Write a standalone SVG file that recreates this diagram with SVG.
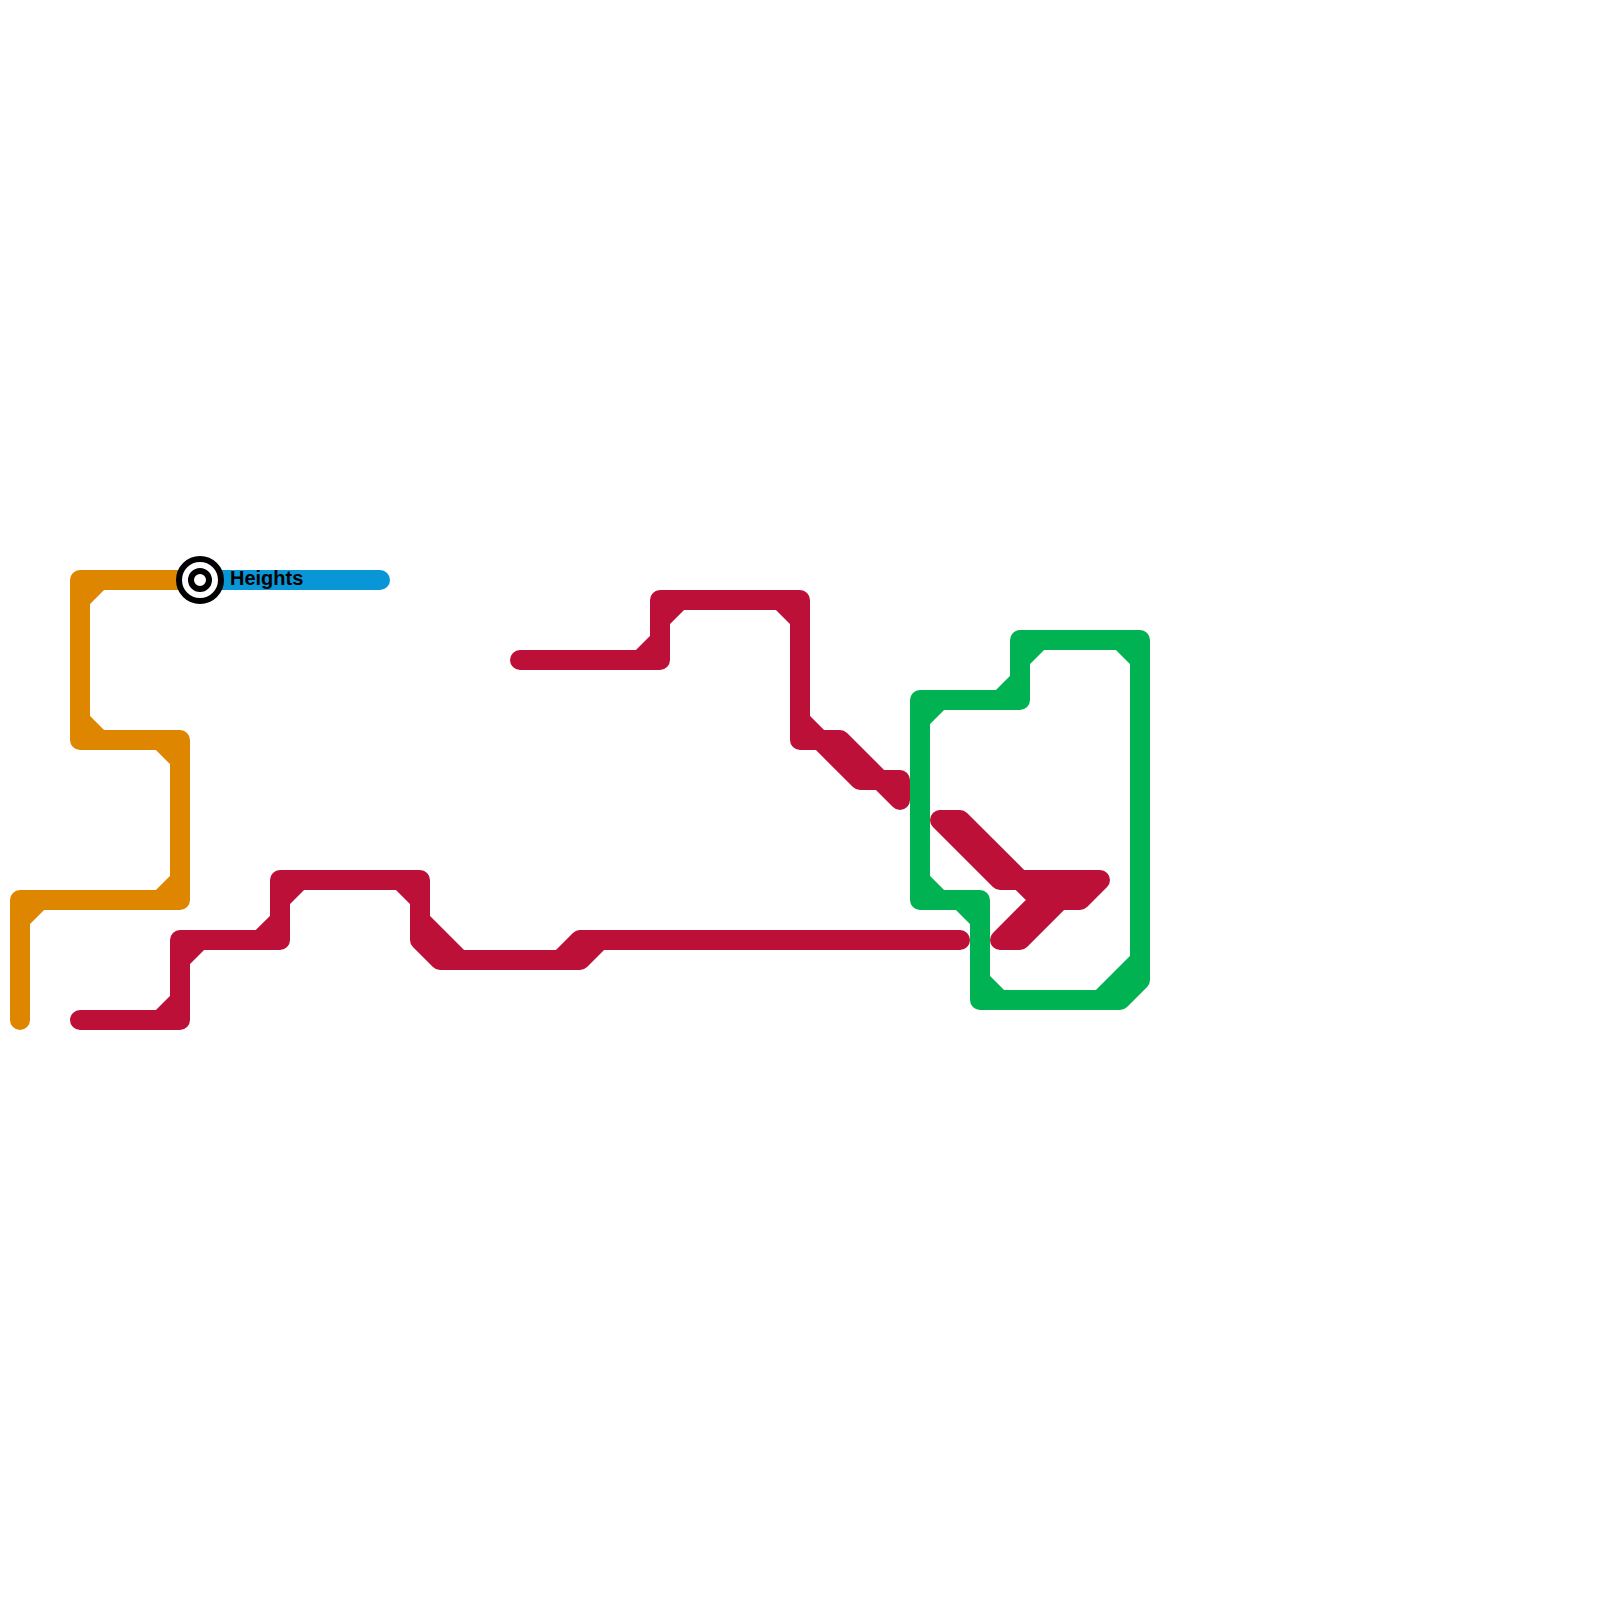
<svg xmlns="http://www.w3.org/2000/svg" width="1600" height="1600" viewBox="0 0 1600 1600">
  <style>
    .line { fill: none; stroke-width: 20; stroke-linecap: round; stroke-linejoin: round; }
    .orange { stroke: #df8600; }
    .blue { stroke: #0896d7; }
    .red { stroke: #bd1038; }
    .green { stroke: #00b251; }
    .label { font-family: "Liberation Sans", Arial, sans-serif; font-size: 20px; font-weight: bold; fill: #000; }
  </style>
  <rect width="1600" height="1600" fill="#ffffff"/>
  <g id="connectors">
    <path id="line-orange" class="line orange" d="M20 1020V900H180V740H80V580H200 M20 920L40 900 M160 900L180 880 M180 760L160 740 M80 720L100 740 M80 600L100 580"/>
    <path id="line-blue" class="line blue" d="M200 580H380"/>
    <path id="line-red-1" class="line red" d="M80 1020H180V940H280V880H420V940L440 960H580V940H960 M160 1020L180 1000 M180 960L200 940 M260 940L280 920 M280 900L300 880 M400 880L420 900 M420 920L460 960 M560 960L580 940 M580 960L600 940"/>
    <path id="line-red-2" class="line red" d="M520 660H660V600H800V740H840L880 780H900V800L880 780 M640 660L660 640 M660 620L680 600 M780 600L800 620 M800 720L820 740 L860 780H880"/>
    <path id="line-red-3" class="line red" d="M940 820H960L1040 900H1080L1100 880H1000L940 820 M1000 940H1020L1060 900 M1000 940L1040 900"/>
    <path id="line-green" class="line green" d="M920 700H1020V640H1140V980L1120 1000H980V900H920Z M920 720L940 700 M1000 700L1020 680 M1020 660L1040 640 M1120 640L1140 660 M1140 960L1100 1000 M980 980L1000 1000 M960 900L980 920 M920 880L940 900"/>
  </g>
  <g id="station-heights">
    <circle cx="200" cy="580" r="21" fill="#ffffff" stroke="#000000" stroke-width="6"/>
    <circle cx="200" cy="580" r="9" fill="#ffffff" stroke="#000000" stroke-width="6"/>
    <text class="label" x="230" y="585">Heights</text>
  </g>
</svg>
